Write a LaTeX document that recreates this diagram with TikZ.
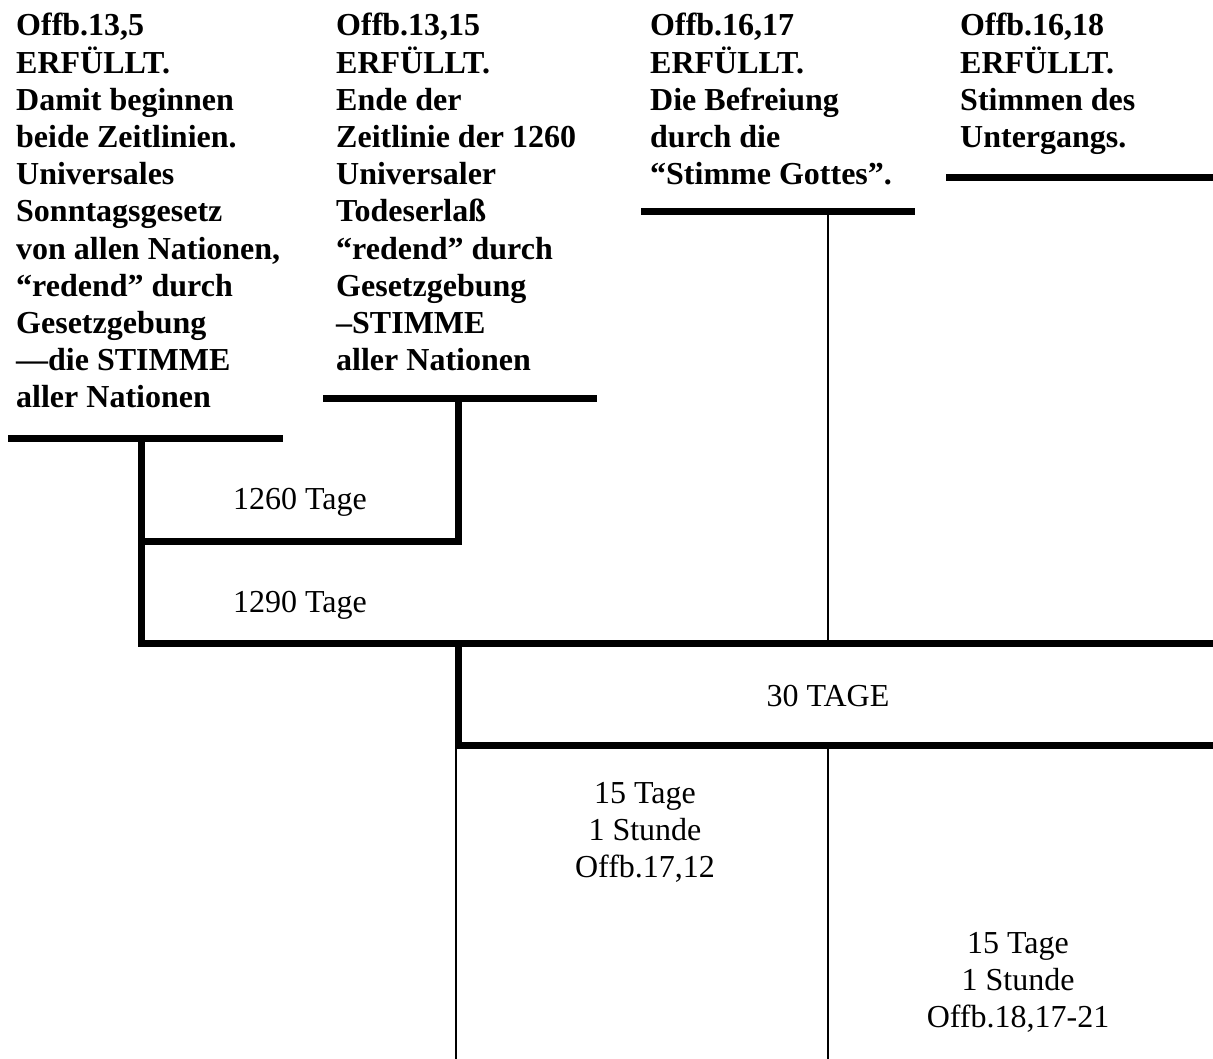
\documentclass[tikz,border=0pt]{standalone}
\usepackage{fontspec}
\setmainfont{Liberation Serif}
\begin{document}
\begin{tikzpicture}[x=1pt,y=-1pt,
  thickbar/.style={line width=7pt, line join=miter, line cap=butt},
  thinbar/.style={line width=1.3pt},
  head/.style={anchor=base west, inner sep=0pt, font=\fontsize{32}{37.2}\selectfont\bfseries},
  lab/.style={anchor=base, inner sep=0pt, font=\fontsize{32}{37.2}\selectfont}]
\useasboundingbox (0,0) rectangle (1213,1059);
% headings
\node[head] (h1) at (16,36) {\parbox[t]{320pt}{Offb.13,5\\ERFÜLLT.\\Damit beginnen\\beide Zeitlinien.\\Universales\\Sonntagsgesetz\\von allen Nationen,\\“redend” durch\\Gesetzgebung\\—die STIMME\\aller Nationen}};
\node[head] (h2) at (336,36) {\parbox[t]{320pt}{Offb.13,15\\ERFÜLLT.\\Ende der\\Zeitlinie der 1260\\Universaler\\Todeserlaß\\“redend” durch\\Gesetzgebung\\–STIMME\\aller Nationen}};
\node[head] (h3) at (650,36) {\parbox[t]{320pt}{Offb.16,17\\ERFÜLLT.\\Die Befreiung\\durch die\\“Stimme Gottes”.}};
\node[head] (h4) at (960,36) {\parbox[t]{260pt}{Offb.16,18\\ERFÜLLT.\\Stimmen des\\Untergangs.}};
% coordinates
\coordinate (a1) at (8,438);   \coordinate (a2) at (283,438);
\coordinate (b1) at (323,398); \coordinate (b2) at (597,398);
\coordinate (c1) at (641,212); \coordinate (c2) at (915,212);
\coordinate (d1) at (946,178); \coordinate (d2) at (1213,178);
\coordinate (v1top) at (141,438); \coordinate (v1bot) at (141,643);
\coordinate (l90end) at (1213,643);
\coordinate (l60start) at (141,541); \coordinate (l60end) at (458,541);
\coordinate (v2top) at (458,398);
\coordinate (v3top) at (458,643); \coordinate (v3bot) at (458,745);
\coordinate (l30end) at (1213,745);
\coordinate (t1top) at (456,745); \coordinate (t1bot) at (456,1059);
\coordinate (t2top) at (828,212); \coordinate (t2mid) at (828,643);
\coordinate (t2mid2) at (828,745); \coordinate (t2bot) at (828,1059);
% bars
\draw[thickbar] (a1) -- (a2);
\draw[thickbar] (b1) -- (b2);
\draw[thickbar] (c1) -- (c2);
\draw[thickbar] (d1) -- (d2);
\draw[thickbar] (v1top) -- (v1bot) -- (l90end);
\draw[thickbar] (l60start) -- (l60end) -- (v2top);
\draw[thickbar] (v3top) -- (v3bot) -- (l30end);
\draw[thinbar] (t1top) -- (t1bot);
\draw[thinbar] (t2top) -- (t2mid);
\draw[thinbar] (t2mid2) -- (t2bot);
% labels
\node[lab] (d1260) at (300,509) {1260 Tage};
\node[lab] (d1290) at (300,612) {1290 Tage};
\node[lab] (d30) at (828,706) {30 TAGE};
\node[lab] (s1) at (645,803) {\parbox[t]{300pt}{\centering 15 Tage\\1 Stunde\\Offb.17,12}};
\node[lab] (s2) at (1018,953) {\parbox[t]{300pt}{\centering 15 Tage\\1 Stunde\\Offb.18,17-21}};
\end{tikzpicture}
\end{document}
